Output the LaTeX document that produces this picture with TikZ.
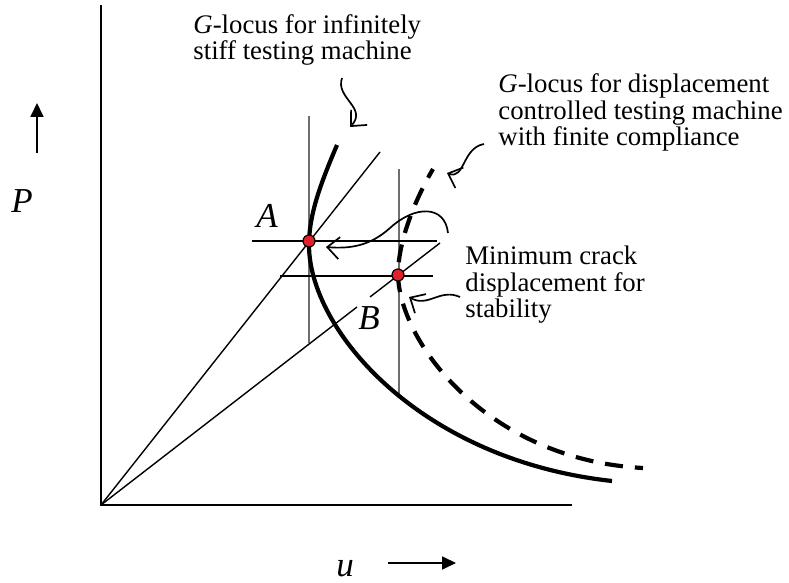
\documentclass[tikz,border=0pt]{standalone}
\usepackage{fontspec}
\setmainfont{Liberation Serif}
\usetikzlibrary{arrows.meta}
\definecolor{locusInk}{HTML}{000000}
\definecolor{guideGray}{HTML}{6E6E6E}
\definecolor{pointRed}{HTML}{E3202A}
\tikzset{
  every picture/.style={font=\fontsize{13.4}{13.3}\selectfont, text=locusInk},
  locus solid/.style={draw=locusInk, line width=2.1pt},
  locus dashed/.style={draw=locusInk, line width=2.1pt, dash pattern=on 9pt off 6pt, dash phase=4pt},
  load line/.style={draw=locusInk, line width=0.7pt},
  guide line/.style={draw=guideGray, line width=0.55pt},
  axis line/.style={draw=locusInk, line width=0.9pt},
  axis arrow/.style={draw=locusInk, line width=0.9pt, -{Triangle[length=7pt,width=6.5pt]}},
  note arrow/.style={draw=locusInk, line width=0.85pt, -{Straight Barb[length=6pt,width=11pt]}},
  note text/.style={align=left, inner sep=0pt, anchor=base west},
  axis label/.style={font=\fontsize{17.5}{20}\selectfont\itshape, inner sep=0pt, anchor=base},
  crack point/.style={fill=pointRed, draw=locusInk, line width=0.6pt}
}
\begin{document}
\begin{tikzpicture}[x=0.5pt,y=-0.5pt]
  \useasboundingbox (0,0) rectangle (789,583);
  \coordinate (O) at (101,505);
  \coordinate (A) at (309,241);
  \coordinate (B) at (398,275);
  % axes
  \draw[axis line] (101,5) -- (O) -- (572,505);
  \draw[axis arrow] (37,153) -- (37,103);
  \draw[axis arrow] (388,563) -- (456,563);
  \node[axis label] (Plabel) at (22,213) {P};
  \node[axis label] (ulabel) at (345,576) {u};
  % guides through A and B
  \draw[guide line] (309,116) -- (309,343);
  \draw[guide line] (399,169) -- (399,395);
  \draw[load line] (252,241) -- (437,241);
  \draw[load line] (280,276) -- (433,276);
  \draw[load line] (O) -- (380,152);
  \draw[load line] (O) -- (357,307);
  \draw[load line] (370,297) -- (440,243);
  % G-loci
  \draw[locus solid] (337,145) .. controls (320,185) and (309,215) .. (309,245)
    .. controls (309,330) and (420,460) .. (612,481);
  \draw[locus dashed] (433,169) .. controls (412,205) and (398,245) .. (398,275)
    .. controls (400,345) and (490,460) .. (643,468);
  \draw[crack point] (A) circle (6);
  \draw[crack point] (B) circle (6);
  \node[axis label] (Alabel) at (267,228) {A};
  \node[axis label] (Blabel) at (369,330) {B};
  % notes (anchored on the last line)
  \node[note text] (stiff) at (193,60) {\textit{G}-locus for infinitely\\stiff testing machine};
  \node[note text] (compliant) at (498,146) {\textit{G}-locus for displacement\\controlled testing machine\\with finite compliance};
  \node[note text] (minimum) at (465,318) {Minimum crack\\displacement for\\stability};
  \draw[note arrow] (342,78) .. controls (335,98) and (368,108) .. (350,127);
  \draw[note arrow] (484,144) .. controls (462,148) and (465,180) .. (447,173);
  \draw[note arrow] (448,233) .. controls (445,205) and (415,205) .. (390,228)
    .. controls (370,246) and (350,249) .. (326,247);
  \draw[note arrow] (460,297) .. controls (440,288) and (428,308) .. (409,297);
\end{tikzpicture}
\end{document}
